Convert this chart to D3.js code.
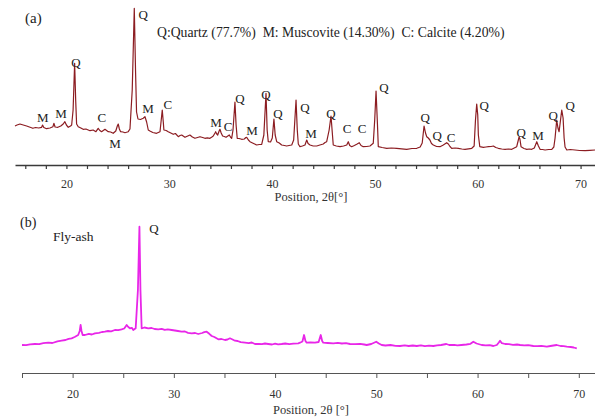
<!DOCTYPE html>
<html><head><meta charset="utf-8">
<script src="https://cdn.jsdelivr.net/npm/d3@7"></script>
<style>
html,body{margin:0;padding:0;background:#fff;}
svg{display:block;font-family:"Liberation Serif","Times New Roman",serif;}
</style></head><body>
<svg id="chart" width="595" height="419"></svg>
<script>
// Soil sample diffractogram: [2θ (°), intensity (counts)]
const soilPattern = [
  [15.0,340],[15.2,350],[15.48,360],[15.8,350],[16.13,340],[16.4,330],[16.74,317],[17.0,325],[17.3,320],
  [17.59,327],[17.68,350],[17.8,325],[18.07,313],[18.4,320],[18.69,333],[18.78,367],[18.9,330],[19.17,327],
  [19.45,340],[19.69,360],[19.85,383],[20.0,350],[20.18,327],[20.4,340],[20.51,350],[20.65,500],[20.8,967],
  [20.9,600],[20.99,360],[21.15,333],[21.4,320],[21.63,307],[21.9,310],[22.29,293],[22.6,300],[22.87,283],
  [23.09,317],[23.25,295],[23.42,283],[23.75,307],[24.07,283],[24.3,280],[24.55,267],[24.8,290],[24.95,340],
  [25.04,360],[25.15,310],[25.27,283],[25.5,280],[25.69,273],[26.01,283],[26.18,310],[26.4,700],[26.6,1517],
  [26.72,900],[26.82,480],[26.96,410],[27.2,405],[27.47,417],[27.64,433],[27.8,380],[27.96,300],[28.12,290],
  [28.4,275],[28.77,267],[29.1,283],[29.22,400],[29.32,500],[29.42,380],[29.48,300],[29.7,295],[29.9,283],
  [30.15,270],[30.39,257],[30.6,265],[30.88,233],[31.05,245],[31.21,250],[31.53,227],[31.8,240],[32.01,250],
  [32.25,230],[32.5,217],[32.75,225],[32.99,233],[33.25,225],[33.47,217],[33.7,222],[33.96,217],[34.15,230],
  [34.28,240],[34.45,270],[34.51,283],[34.62,260],[34.71,250],[34.85,290],[34.93,307],[35.05,270],[35.19,240],
  [35.35,235],[35.52,227],[35.7,240],[35.84,250],[35.95,230],[36.07,217],[36.2,300],[36.39,580],[36.5,350],
  [36.61,217],[36.8,215],[37.04,207],[37.3,210],[37.45,225],[37.53,227],[37.7,200],[37.85,183],[38.1,170],
  [38.5,150],[38.75,155],[38.99,157],[39.2,250],[39.41,667],[39.52,300],[39.63,183],[39.85,180],[40.02,220],
  [40.18,410],[40.3,250],[40.45,183],[40.7,170],[40.93,150],[41.2,145],[41.42,140],[41.65,145],[41.91,150],
  [42.1,200],[42.33,600],[42.45,300],[42.55,160],[42.71,133],[42.95,140],[43.2,150],[43.37,200],[43.5,165],
  [43.69,150],[44.0,140],[44.34,140],[44.65,150],[44.98,160],[45.15,175],[45.31,183],[45.55,300],[45.73,440],
  [45.85,280],[45.95,150],[46.25,140],[46.61,133],[46.95,140],[47.26,150],[47.41,183],[47.55,145],[47.74,133],
  [48.0,145],[48.23,157],[48.48,173],[48.65,145],[48.87,133],[49.2,135],[49.52,140],[49.84,167],[49.98,400],
  [50.11,690],[50.25,350],[50.33,133],[50.7,125],[51.15,117],[51.6,120],[52.12,117],[52.6,112],[53.09,107],
  [53.6,115],[54.07,117],[54.4,130],[54.6,170],[54.78,340],[54.92,270],[55.04,233],[55.19,220],[55.35,200],
  [55.5,165],[55.68,150],[56.0,135],[56.33,133],[56.65,150],[56.98,173],[57.14,160],[57.3,135],[57.47,117],
  [57.8,120],[58.11,117],[58.45,110],[58.76,107],[59.1,112],[59.42,117],[59.65,140],[59.78,400],[59.9,560],
  [60.0,450],[60.06,250],[60.2,133],[60.54,127],[60.8,130],[61.03,133],[61.3,135],[61.52,140],[61.75,125],
  [62.0,117],[62.33,110],[62.66,107],[63.0,110],[63.31,107],[63.55,120],[63.79,133],[63.9,180],[64.02,230],
  [64.1,210],[64.21,133],[64.5,115],[64.77,107],[65.0,110],[65.25,107],[65.5,120],[65.74,183],[65.9,140],
  [66.06,107],[66.3,105],[66.55,100],[66.9,105],[67.2,107],[67.4,130],[67.52,220],[67.68,400],[67.8,320],
  [67.91,283],[68.05,400],[68.17,500],[68.3,420],[68.4,220],[68.49,130],[68.66,100],[69.0,105],[69.46,100],
  [69.9,95],[70.44,93],[70.9,97],[71.41,100]
];

// Phase markers over the soil pattern
const soilMarkText   = ["M","M","C","M","Q","Q","M","C","M","C","Q","M","Q","Q","Q","M","Q","C","C","Q","Q","Q","C","Q","Q","M","Q","Q"];
const soilMarkTheta  = [17.71,19.47,23.45,24.72,20.92,27.46,27.93,29.87,34.54,35.71,36.88,38.05,39.41,40.58,43.2,43.79,45.73,47.29,48.75,50.89,54.88,56.05,57.41,60.62,64.22,65.87,67.33,68.98];
const soilMarkCounts = [430,470,430,170,980,1460,520,560,380,340,620,300,660,470,530,270,470,320,320,730,430,250,230,550,280,250,450,550];

// Fly-ash diffractogram: [2θ (°), intensity (counts)]
const flyAshPattern = [
  [15.0,150],[15.4,148],[15.8,156],[16.27,160],[16.7,158],[17.1,168],[17.59,173],[18.0,170],[18.5,186],
  [18.91,193],[19.3,200],[19.6,212],[19.9,217],[20.2,230],[20.55,250],[20.7,290],[20.79,350],[20.88,290],
  [20.99,250],[21.22,250],[21.6,262],[21.9,255],[22.2,267],[22.6,272],[22.9,280],[23.19,283],[23.5,290],
  [23.8,286],[24.18,300],[24.5,298],[24.84,307],[25.1,315],[25.34,350],[25.5,330],[25.66,317],[25.85,322],
  [25.99,300],[26.23,317],[26.45,700],[26.6,1333],[26.7,700],[26.82,317],[27.1,325],[27.47,317],[27.8,320],
  [28.1,310],[28.46,307],[28.8,312],[29.1,302],[29.4,306],[29.78,300],[30.1,295],[30.4,290],[30.77,283],
  [31.1,285],[31.4,272],[31.76,267],[32.1,270],[32.41,260],[32.8,270],[33.0,278],[33.24,283],[33.5,262],
  [33.74,240],[34.0,230],[34.39,207],[34.7,210],[35.05,200],[35.3,205],[35.54,217],[35.8,205],[36.04,193],
  [36.3,190],[36.6,178],[37.03,173],[37.4,168],[37.7,175],[38.01,160],[38.4,162],[38.7,158],[39.0,165],
  [39.33,160],[39.7,155],[40.0,163],[40.3,157],[40.65,160],[41.0,165],[41.4,158],[41.8,164],[42.29,167],
  [42.46,173],[42.7,185],[42.86,250],[43.0,190],[43.12,173],[43.5,176],[43.94,173],[44.3,180],[44.51,250],
  [44.65,190],[44.76,173],[45.2,170],[45.75,167],[46.2,172],[46.6,165],[47.0,168],[47.4,160],[47.9,158],
  [48.4,162],[48.8,155],[49.05,150],[49.5,160],[49.99,183],[50.25,165],[50.53,150],[50.9,145],[51.4,150],
  [51.9,142],[52.34,140],[52.8,146],[53.2,140],[53.6,145],[53.99,140],[54.4,147],[54.8,138],[55.2,144],
  [55.63,140],[56.0,146],[56.4,150],[56.91,160],[57.2,150],[57.7,152],[58.0,146],[58.4,150],[58.9,155],
  [59.3,162],[59.58,183],[59.9,165],[60.41,150],[60.8,146],[61.2,148],[61.56,140],[61.9,150],[62.1,175],
  [62.22,193],[62.4,168],[62.72,160],[63.1,158],[63.5,152],[63.9,155],[64.2,150],[64.6,146],[65.0,148],
  [65.51,140],[65.9,138],[66.3,142],[66.84,133],[67.2,140],[67.5,145],[67.82,150],[68.2,140],[68.5,138],
  [68.81,133],[69.2,130],[69.5,125],[69.8,117]
];

const flyAshMarkText   = ["Q"];
const flyAshMarkTheta  = [28.03];
const flyAshMarkCounts = [1320];

// Axis ticks
const soilTicks    = d3.range(16, 71, 2);
const flyAshTicks  = [15,20,25,30,35,40,45,50,55,60,65,70];
const tickLabels   = [20,30,40,50,60,70];

const legendText = "Q:Quartz (77.7%)  M: Muscovite (14.30%)  C: Calcite (4.20%)";

const svg = d3.select("#chart");
const fmt = d => tickLabels.includes(d) ? String(d) : "";

// ---- Panel (a): soil ----
const xA = d3.scaleLinear().domain([15, 71.5]).range([15, 596]);
const yA = d3.scaleLinear().domain([0, 1600]).range([160, 0]);

const axisA = svg.append("g").attr("transform", "translate(0,165)")
  .call(d3.axisBottom(xA).tickValues(soilTicks).tickFormat(fmt).tickSize(4).tickSizeOuter(0).tickPadding(10));
axisA.select(".domain").attr("stroke", "#3a3a3a").attr("stroke-width", 1.6);
axisA.selectAll(".tick line").attr("stroke", "#3a3a3a").attr("stroke-width", 1.2);
axisA.selectAll(".tick text").attr("font-size", 12).attr("fill", "#333")
  .attr("font-family", "'Liberation Serif', serif");

svg.append("path").datum(soilPattern)
  .attr("fill", "none").attr("stroke", "#8c1d22").attr("stroke-width", 1.2)
  .attr("stroke-linejoin", "round")
  .attr("d", d3.line().x(d => xA(d[0])).y(d => yA(d[1])));

svg.append("g").selectAll("text").data(soilMarkText).join("text")
  .attr("x", (d, i) => xA(soilMarkTheta[i]))
  .attr("y", (d, i) => yA(soilMarkCounts[i]))
  .attr("dy", "0.35em").attr("text-anchor", "middle")
  .attr("font-size", 13).attr("fill", "#222").text(d => d);

svg.append("text").attr("x", 157).attr("y", 37).attr("font-size", 13.7).attr("fill", "#222")
  .attr("xml:space", "preserve").style("white-space", "pre").text(legendText);
svg.append("text").attr("x", 25).attr("y", 23).attr("font-size", 15).attr("fill", "#222").text("(a)");
svg.append("text").attr("x", 311).attr("y", 201).attr("text-anchor", "middle")
  .attr("font-size", 12.5).attr("fill", "#333").text("Position, 2θ[°]");

// ---- Panel (b): fly-ash ----
const xB = d3.scaleLinear().domain([15, 71.6]).range([22, 595]);
const yB = d3.scaleLinear().domain([0, 1400]).range([360, 220]);

const axisB = svg.append("g").attr("transform", "translate(0,373)")
  .call(d3.axisBottom(xB).tickValues(flyAshTicks).tickFormat(fmt).tickSize(5).tickSizeOuter(0).tickPadding(11));
axisB.select(".domain").attr("stroke", "#555").attr("stroke-width", 1);
axisB.selectAll(".tick line").attr("stroke", "#555").attr("stroke-width", 1);
axisB.selectAll(".tick text").attr("font-size", 12).attr("fill", "#333")
  .attr("font-family", "'Liberation Serif', serif");

svg.append("path").datum(flyAshPattern)
  .attr("fill", "none").attr("stroke", "#e826e8").attr("stroke-width", 1.8)
  .attr("stroke-linejoin", "round")
  .attr("d", d3.line().x(d => xB(d[0])).y(d => yB(d[1])));

svg.append("g").selectAll("text").data(flyAshMarkText).join("text")
  .attr("x", (d, i) => xB(flyAshMarkTheta[i]))
  .attr("y", (d, i) => yB(flyAshMarkCounts[i]))
  .attr("dy", "0.35em").attr("text-anchor", "middle")
  .attr("font-size", 13).attr("fill", "#222").text(d => d);

svg.append("text").attr("x", 20).attr("y", 227).attr("font-size", 14).attr("fill", "#222").text("(b)");
svg.append("text").attr("x", 53).attr("y", 241).attr("font-size", 13.5).attr("fill", "#222").text("Fly-ash");
svg.append("text").attr("x", 311).attr("y", 414).attr("text-anchor", "middle")
  .attr("font-size", 12.5).attr("fill", "#333").text("Position, 2θ [°]");
</script>
</body></html>
